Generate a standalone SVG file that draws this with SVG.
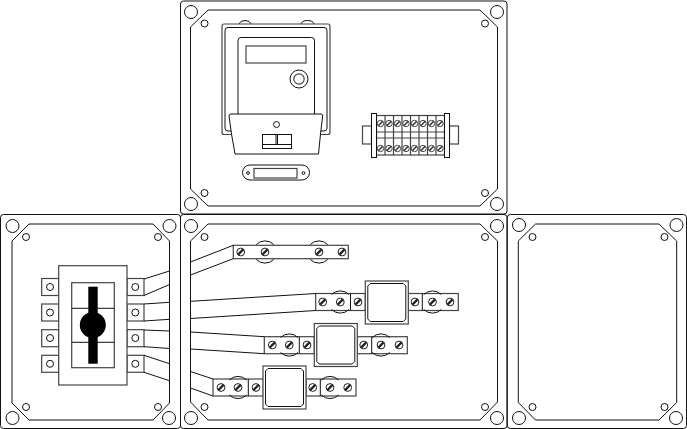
<svg xmlns="http://www.w3.org/2000/svg" width="687" height="429" viewBox="0 0 687 429">
<style>
.l{fill:none;stroke:#111;stroke-width:1}
.w{fill:#fff;stroke:#111;stroke-width:1}
.g{fill:#fff;stroke:#444;stroke-width:1.2}
.v{fill:none;stroke:#444;stroke-width:1.2}
.k{fill:#000;stroke:none}
</style>
<defs>
<g id="screw"><circle r="3.9" fill="#fff" stroke="#222" stroke-width="1"/><line x1="-2.6" y1="2.6" x2="2.6" y2="-2.6" stroke="#222" stroke-width="2.2"/></g>
<g id="bscrew"><circle r="3.2" fill="#fff" stroke="#333" stroke-width=".9"/><line x1="-2.2" y1="2.2" x2="2.2" y2="-2.2" stroke="#333" stroke-width="1.5"/></g>
<g id="hole"><circle r="3.5" class="l"/></g>
<g id="bighole"><circle r="6.5" class="l"/></g>
<g id="arc"><path class="l" d="M-8.7,-7.500A12.300,12.300 0 0 1 8.700,-7.500M-8.700,7.500A12.300,12.300 0 0 0 8.700,7.500"/></g>
<g id="term"><rect x="-17" y="0" width="17" height="17" class="g"/></g>
<g id="sq"><rect width="43" height="43" class="g"/><path class="l" d="M5,2.500H38L40.500,5V38L38,40.500H5L2.500,38V5Z"/></g>
</defs>

<g id="enclosure-top">
<rect x="180.500" y="1" width="326.500" height="213" rx="3" class="l"/>
<path class="l" d="M208,10H480L497.500,27V189L480,206H208L190.500,189V27Z"/>
<use href="#bighole" x="191" y="12"/><use href="#bighole" x="497" y="12"/><use href="#bighole" x="191" y="204"/><use href="#bighole" x="497" y="204"/>
<use href="#hole" x="204.500" y="23.500"/><use href="#hole" x="485" y="23.500"/><use href="#hole" x="204.500" y="193"/><use href="#hole" x="485" y="193"/>
</g>

<g id="meter">
<path class="l" d="M239,24Q240,20.500 245,20.500Q250,20.500 251,24M301,24Q302,20.500 307.500,20.500Q313,20.500 314,24"/>
<rect x="222" y="24" width="108" height="110.500" rx="2" class="g"/>
<rect x="225" y="27.500" width="102" height="103.500" rx="3" class="l"/>
<rect x="238" y="37.500" width="76.500" height="90" rx="3" class="l"/>
<rect x="246" y="46" width="60" height="17" class="g"/>
<circle cx="299" cy="79" r="9" class="l"/><circle cx="299" cy="79" r="5.200" class="g"/>
<path class="w" d="M231,114H321Q322.700,114 322.700,116L320.500,134L318.500,154H235L231.500,134L229,116Q229,114 231,114Z"/>
<circle cx="276.500" cy="124.500" r="3" class="l"/>
<rect x="262.500" y="134.500" width="29" height="14" class="w"/>
<path class="l" d="M262.500,144.500H291.500M276,134.500V144.500M277.500,134.500V144.500"/>
<rect x="242.500" y="165" width="67" height="15" rx="7.500" class="l"/>
<rect x="254" y="168.500" width="43" height="9.500" class="g"/>
<circle cx="248" cy="173" r="1.400" class="l"/><circle cx="303.500" cy="173" r="1.400" class="l"/>
</g>

<g id="terminal-block">
<rect x="362.500" y="126" width="9" height="18" class="g"/><rect x="449.500" y="126" width="9" height="18" class="g"/>
<rect x="376.500" y="115.500" width="68" height="39.500" class="g"/>
<path class="v" d="M385,115.500V155M393.500,115.500V155M402,115.500V155M410.500,115.500V155M419,115.500V155M427.500,115.500V155M436,115.500V155"/>
<path class="v" d="M376.500,132H444.500M376.500,138H444.500"/>
<rect x="371.500" y="113.500" width="5" height="44" class="w"/><rect x="444.500" y="113.500" width="5" height="44" class="w"/>
<use href="#bscrew" x="380.500" y="123.500"/><use href="#bscrew" x="389" y="123.500"/><use href="#bscrew" x="397.500" y="123.500"/><use href="#bscrew" x="406" y="123.500"/><use href="#bscrew" x="414.500" y="123.500"/><use href="#bscrew" x="423" y="123.500"/><use href="#bscrew" x="431.500" y="123.500"/><use href="#bscrew" x="440" y="123.500"/>
<use href="#bscrew" x="380.500" y="148.500"/><use href="#bscrew" x="389" y="148.500"/><use href="#bscrew" x="397.500" y="148.500"/><use href="#bscrew" x="406" y="148.500"/><use href="#bscrew" x="414.500" y="148.500"/><use href="#bscrew" x="423" y="148.500"/><use href="#bscrew" x="431.500" y="148.500"/><use href="#bscrew" x="440" y="148.500"/>
</g>

<g id="enclosure-left">
<rect x="0.500" y="214.500" width="180" height="214" rx="3" class="l"/>
<path class="l" d="M29,224H153L169.500,241V403L153,420H29L12,403V241Z"/>
<use href="#bighole" x="12.500" y="226"/><use href="#bighole" x="169.500" y="226"/><use href="#bighole" x="12.500" y="418"/><use href="#bighole" x="169" y="418"/>
<use href="#hole" x="26" y="237"/><use href="#hole" x="158" y="237"/><use href="#hole" x="26" y="407"/><use href="#hole" x="158" y="407"/>
</g>

<g id="switch">
<use href="#term" x="58.700" y="278.500"/><use href="#term" x="58.700" y="304"/><use href="#term" x="58.700" y="329.700"/><use href="#term" x="58.700" y="355.300"/>
<use href="#term" x="144" y="278.500"/><use href="#term" x="144" y="304"/><use href="#term" x="144" y="329.700"/><use href="#term" x="144" y="355.300"/>
<circle cx="50" cy="287" r="3.500" class="l"/><circle cx="50" cy="312.500" r="3.500" class="l"/><circle cx="50" cy="338" r="3.500" class="l"/><circle cx="50" cy="363.800" r="3.500" class="l"/>
<circle cx="135.300" cy="287" r="3.500" class="l"/><circle cx="135.300" cy="312.500" r="3.500" class="l"/><circle cx="135.300" cy="338" r="3.500" class="l"/><circle cx="135.300" cy="363.800" r="3.500" class="l"/>
<rect x="58.700" y="265.700" width="68.300" height="119.300" class="g"/>
<rect x="71.700" y="282.700" width="42.600" height="85" class="g"/>
<path class="l" d="M71.700,308.300H114.300M71.700,342.300H114.300"/>
<rect x="88.300" y="286.700" width="9.400" height="77" class="k"/>
<circle cx="92.800" cy="325" r="13" class="k"/>
</g>

<g id="enclosure-middle">
<rect x="180.500" y="214.500" width="326.500" height="214" rx="3" class="l"/>
<path class="l" d="M208,224H480L497.500,241V402L480,420H208L190.500,402V241Z"/>
<use href="#bighole" x="191" y="226"/><use href="#bighole" x="497" y="226"/><use href="#bighole" x="191" y="418"/><use href="#bighole" x="497" y="418"/>
<use href="#hole" x="204.500" y="237"/><use href="#hole" x="485" y="237"/><use href="#hole" x="204.500" y="407"/><use href="#hole" x="485" y="407"/>
</g>

<g id="busbar-1">
<rect x="233.300" y="245.300" width="115" height="13.400" class="g"/>
<use href="#arc" x="265" y="252"/><use href="#arc" x="319" y="252"/>
<use href="#screw" x="240.700" y="252"/><use href="#screw" x="265" y="252"/><use href="#screw" x="319" y="252"/><use href="#screw" x="342" y="252"/>
</g>

<g id="busbar-2">
<rect x="315.700" y="293.500" width="49.600" height="17" class="g"/><rect x="408.300" y="293.500" width="50" height="17" class="g"/>
<path class="l" d="M350.500,293.500V310.500M422.300,293.500V310.500"/>
<use href="#arc" x="340.300" y="302"/><use href="#arc" x="432.500" y="302"/>
<use href="#sq" x="365.300" y="281"/>
<use href="#screw" x="322.700" y="302"/><use href="#screw" x="340.300" y="302"/><use href="#screw" x="358" y="302"/><use href="#screw" x="415" y="302"/><use href="#screw" x="432.500" y="302"/><use href="#screw" x="450" y="302"/>
</g>

<g id="busbar-3">
<rect x="264.300" y="336.700" width="50" height="17" class="g"/><rect x="357.300" y="336.700" width="50" height="17" class="g"/>
<path class="l" d="M299.300,336.700V353.700M371.700,336.700V353.700"/>
<use href="#arc" x="289.300" y="345"/><use href="#arc" x="381" y="345"/>
<use href="#sq" x="314.300" y="323.500"/>
<use href="#screw" x="272.300" y="345"/><use href="#screw" x="289.300" y="345"/><use href="#screw" x="307" y="345"/><use href="#screw" x="363.700" y="345"/><use href="#screw" x="381" y="345"/><use href="#screw" x="399" y="345"/>
</g>

<g id="busbar-4">
<rect x="213" y="379" width="50.300" height="17" class="g"/><rect x="306" y="379" width="50" height="17" class="g"/>
<path class="l" d="M248.300,379V396M320.300,379V396"/>
<use href="#arc" x="238" y="387.500"/><use href="#arc" x="330" y="387.500"/>
<use href="#sq" x="263" y="366"/>
<use href="#screw" x="221" y="387.500"/><use href="#screw" x="238" y="387.500"/><use href="#screw" x="256" y="387.500"/><use href="#screw" x="312.700" y="387.500"/><use href="#screw" x="330" y="387.500"/><use href="#screw" x="347.700" y="387.500"/>
</g>

<g id="enclosure-right">
<rect x="507.300" y="214.500" width="179.200" height="214" rx="3" class="l"/>
<path class="l" d="M535.500,224H659L676.700,241V402.500L659,420H535.500L518.300,402.500V241Z"/>
<use href="#bighole" x="519" y="225"/><use href="#bighole" x="676.500" y="225"/><use href="#bighole" x="519" y="418"/><use href="#bighole" x="676" y="418"/>
<use href="#hole" x="532.500" y="237"/><use href="#hole" x="664.500" y="237"/><use href="#hole" x="532.500" y="407"/><use href="#hole" x="664.500" y="407"/>
</g>

<g id="connectors">
<path class="l" d="M144,279L169.500,271M144,295.500L169.500,284.500M144,304L169.500,302.300M144,321L169.500,319.300M144,330L169.500,331M144,346.700L169.500,348.500M144,355.300L169.500,363.700M144,372.300L169.500,380.700"/>
<path class="l" d="M190.500,262L233.300,245.300M190.500,275L233.300,258.700M190.500,301.300L315.700,293.500M190.500,318.500L315.700,310.500M190.500,332L264.300,336.700M190.500,349L264.300,353.700M190.500,371.500L213,379M190.500,388L213,396"/>
</g>
</svg>
